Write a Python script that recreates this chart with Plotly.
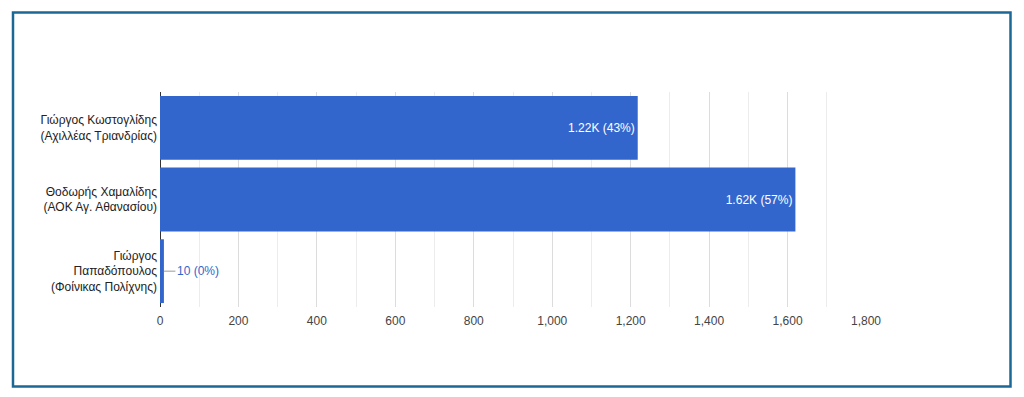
import plotly.graph_objects as go

categories = [
    "Γιώργος Κωστογλίδης<br>(Αχιλλέας Τριανδρίας)",
    "Θοδωρής Χαμαλίδης<br>(ΑΟΚ Αγ. Αθανασίου)",
    "Γιώργος<br>Παπαδόπουλος<br>(Φοίνικας Πολίχνης)",
]
values = [1218, 1620, 10]
tick_vals = [0, 200, 400, 600, 800, 1000, 1200, 1400, 1600, 1800]

total = sum(values)
def fmt(v):
    s = f"{v/1000:.2f}K" if v >= 1000 else f"{v}"
    return f"{s} ({round(100*v/total)}%)"
labels = [fmt(v) for v in values]

BLUE = "#3366cc"
FONT = "Liberation Sans, Arial, sans-serif"

inside_text = [labels[0], labels[1], ""]

fig = go.Figure()
fig.add_trace(go.Bar(
    x=values, y=categories, orientation="h",
    marker=dict(color=BLUE, line=dict(width=0)),
    text=inside_text, textposition="inside", insidetextanchor="end",
    textfont=dict(color="white", size=12, family=FONT),
    hoverinfo="x+y",
))

fig.add_annotation(
    x=values[2], y=categories[2], xref="x", yref="y",
    text=labels[2], showarrow=True, arrowhead=0, arrowwidth=1,
    arrowcolor="#999999", ax=34, ay=0, standoff=0,
    font=dict(color=BLUE, size=12, family=FONT),
)

L, R, T, B = 160, 866, 92, 307
W = R - L
H = B - T
def px(xp):
    return (xp - L) / W
def py(yp):
    return (B - yp) / H

fig.add_shape(
    type="rect", xref="paper", yref="paper",
    x0=px(13), x1=px(1010.5), y0=py(386.5), y1=py(12.5),
    line=dict(color="#1b6896", width=2.5), fillcolor="rgba(0,0,0,0)",
    layer="below",
)

fig.update_layout(
    width=1024, height=397,
    margin=dict(l=L, r=1024 - R, t=T, b=397 - B),
    paper_bgcolor="white", plot_bgcolor="white",
    showlegend=False, bargap=0.11,
    font=dict(family=FONT, size=12, color="#222222"),
    xaxis=dict(
        range=[0, 1800], tickvals=tick_vals, tickformat=",d",
        showgrid=True, gridcolor="#dcdcdc", gridwidth=1,
        minor=dict(dtick=100, showgrid=True, gridcolor="#ececec", gridwidth=1),
        zeroline=True, zerolinecolor="#333333", zerolinewidth=1,
        showline=False, ticks="", ticklabelstandoff=5,
        tickfont=dict(color="#444444", size=12, family=FONT),
        fixedrange=True,
    ),
    yaxis=dict(
        autorange="reversed", showgrid=False, showline=False, ticks="",
        ticklabelstandoff=2,
        tickfont=dict(color="#222222", size=12, family=FONT),
        fixedrange=True,
    ),
)

fig.write_html(
    "out.html",
    config={"displayModeBar": False},
    post_script="document.body.style.margin='0';document.body.style.overflow='hidden';",
)
